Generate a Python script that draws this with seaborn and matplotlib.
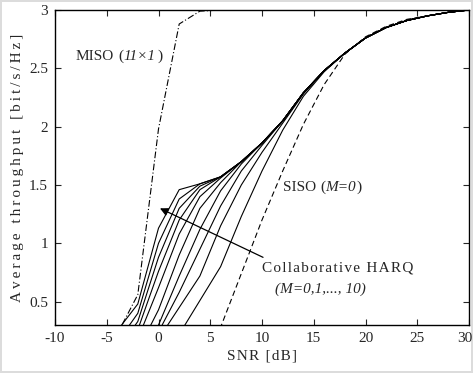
import numpy as np
import pandas as pd
import matplotlib
matplotlib.use('Agg')
import matplotlib.pyplot as plt
import matplotlib.transforms as mtransforms
import seaborn as sns

# SNR grid of the simulation (dB)
snr = [-10, -8, -6, -4, -2, 0, 2, 4, 6, 8, 10, 12, 14, 16, 18, 20, 22, 24, 26, 28, 30]

# Single-antenna reference (M=0)
siso = [0, 0, 0, 0, 0, 0, 0, 0.05, 0.28, 0.74, 1.20, 1.62, 2.02, 2.36, 2.62, 2.77, 2.86, 2.92, 2.95, 2.98, 3.00]

# MISO 11x1 bound
miso = [0, 0, 0, 0.22, 0.56, 1.98, 2.88, 2.99, 3.00, 3.00, 3.00, 3.00, 3.00, 3.00, 3.00, 3.00, 3.00, 3.00, 3.00, 3.00, 3.00]

# Collaborative HARQ, M = 1 .. 10
harq_m1 = [0, 0, 0, 0, 0, 0, 0.22, 0.51, 0.80, 1.23, 1.62, 1.97, 2.26, 2.47, 2.63, 2.76, 2.85, 2.91, 2.95, 2.98, 3.00]
harq_m2 = [0, 0, 0, 0, 0, 0.18, 0.45, 0.72, 1.15, 1.50, 1.78, 2.03, 2.28, 2.48, 2.63, 2.76, 2.85, 2.91, 2.95, 2.98, 3.00]
harq_m3 = [0, 0, 0, 0, 0, 0.24, 0.58, 0.95, 1.32, 1.62, 1.84, 2.05, 2.29, 2.48, 2.63, 2.76, 2.85, 2.91, 2.95, 2.98, 3.00]
harq_m4 = [0, 0, 0, 0, 0, 0.30, 0.72, 1.12, 1.45, 1.68, 1.86, 2.05, 2.29, 2.48, 2.63, 2.76, 2.85, 2.91, 2.95, 2.98, 3.00]
harq_m5 = [0, 0, 0, 0, 0.08, 0.43, 0.90, 1.30, 1.52, 1.70, 1.86, 2.05, 2.29, 2.48, 2.63, 2.76, 2.85, 2.91, 2.95, 2.98, 3.00]
harq_m6 = [0, 0, 0, 0, 0.18, 0.62, 1.08, 1.40, 1.56, 1.70, 1.86, 2.05, 2.29, 2.48, 2.63, 2.76, 2.85, 2.91, 2.95, 2.98, 3.00]
harq_m7 = [0, 0, 0, 0, 0.26, 0.76, 1.20, 1.46, 1.57, 1.70, 1.86, 2.05, 2.29, 2.48, 2.63, 2.76, 2.85, 2.91, 2.95, 2.98, 3.00]
harq_m8 = [0, 0, 0, 0.08, 0.33, 0.88, 1.30, 1.49, 1.57, 1.70, 1.86, 2.05, 2.29, 2.48, 2.63, 2.76, 2.85, 2.91, 2.95, 2.98, 3.00]
harq_m9 = [0, 0, 0, 0.15, 0.40, 1.00, 1.38, 1.51, 1.57, 1.70, 1.86, 2.05, 2.29, 2.48, 2.63, 2.76, 2.85, 2.91, 2.95, 2.98, 3.00]
harq_m10 = [0, 0, 0, 0.25, 0.48, 1.13, 1.46, 1.51, 1.57, 1.70, 1.86, 2.05, 2.29, 2.48, 2.63, 2.76, 2.85, 2.91, 2.95, 2.98, 3.00]

harq = [harq_m1, harq_m2, harq_m3, harq_m4, harq_m5,
        harq_m6, harq_m7, harq_m8, harq_m9, harq_m10]

x_ticks = [-10, -5, 0, 5, 10, 15, 20, 25, 30]
y_ticks = [0.5, 1, 1.5, 2, 2.5, 3]


def spaced(s, gap='\u200a'):
    # crude letter spacing, the original uses tracked text
    return gap.join(s)


sns.set_style('ticks')
plt.rcParams['font.family'] = ['Liberation Serif', 'DejaVu Serif']
plt.rcParams['axes.unicode_minus'] = False
plt.rcParams['xtick.direction'] = 'in'
plt.rcParams['ytick.direction'] = 'in'

fig = plt.figure(figsize=(4.73, 3.73), dpi=100)
fig.patch.set_edgecolor('#dcdcdc')
fig.patch.set_linewidth(1.5)
ax = fig.add_axes([55 / 473, 1 - 325 / 373, 414 / 473, 315 / 373])

for vals in harq:
    sns.lineplot(x=snr, y=vals, ax=ax, color='black', lw=0.8, estimator=None)
sns.lineplot(x=snr, y=siso, ax=ax, color='black', lw=0.8, estimator=None,
             linestyle=(0, (5, 3)))
sns.lineplot(x=snr, y=miso, ax=ax, color='black', lw=0.8, estimator=None,
             linestyle=(0, (6, 2, 1, 2)))

ax.set_xlim(-10, 30)
ax.set_ylim(0.3, 3)
ax.set_xticks(x_ticks)
ax.set_xticklabels([str(t) for t in x_ticks])
ax.set_yticks(y_ticks)
ax.set_yticklabels(['0.5', '1', '1.5', '2', '2.5', '3'])
ax.tick_params(axis='both', labelsize=11, length=4, width=0.8,
               top=True, right=True, pad=5)
for sp in ax.spines.values():
    sp.set_linewidth(1.0)
    sp.set_color('black')

# pull the last x label a bit inside so it is not clipped
last = ax.get_xticklabels()[-1]
last.set_transform(last.get_transform() +
                   mtransforms.ScaledTranslation(-4 / 100, 0, fig.dpi_scale_trans))

ax.set_xlabel(spaced('SNR [dB]'), fontsize=11, labelpad=3)
ax.set_ylabel(spaced('Average throughput [bit/s/Hz]', '\u2009'), fontsize=11, labelpad=4)

# annotations
ax.text(-8.0, 2.6, 'MISO', fontsize=11, va='center', ha='left')
ax.text(-3.9, 2.6, '(', fontsize=11, va='center', ha='left')
ax.text(-3.35, 2.6, '11×1', fontsize=11, va='center', ha='left', style='italic')
ax.text(-0.1, 2.6, ')', fontsize=11, va='center', ha='left')

ax.text(12.0, 1.48, 'SISO', fontsize=11, va='center', ha='left')
ax.text(15.6, 1.48, '(', fontsize=11, va='center', ha='left')
ax.text(16.1, 1.48, 'M=0', fontsize=11, va='center', ha='left', style='italic')
ax.text(19.1, 1.48, ')', fontsize=11, va='center', ha='left')

ax.text(10.0, 0.79, spaced('Collaborative HARQ'), fontsize=11, va='center', ha='left')
ax.text(15.6, 0.61, '(M=0,1,..., 10)', fontsize=11, va='center', ha='center', style='italic')

ax.annotate('', xy=(0.14, 1.30), xytext=(10.1, 0.88),
            arrowprops=dict(arrowstyle='-|>', color='black', lw=0.9,
                            mutation_scale=12, shrinkA=0, shrinkB=0))

fig.savefig('out.png', dpi=100)
